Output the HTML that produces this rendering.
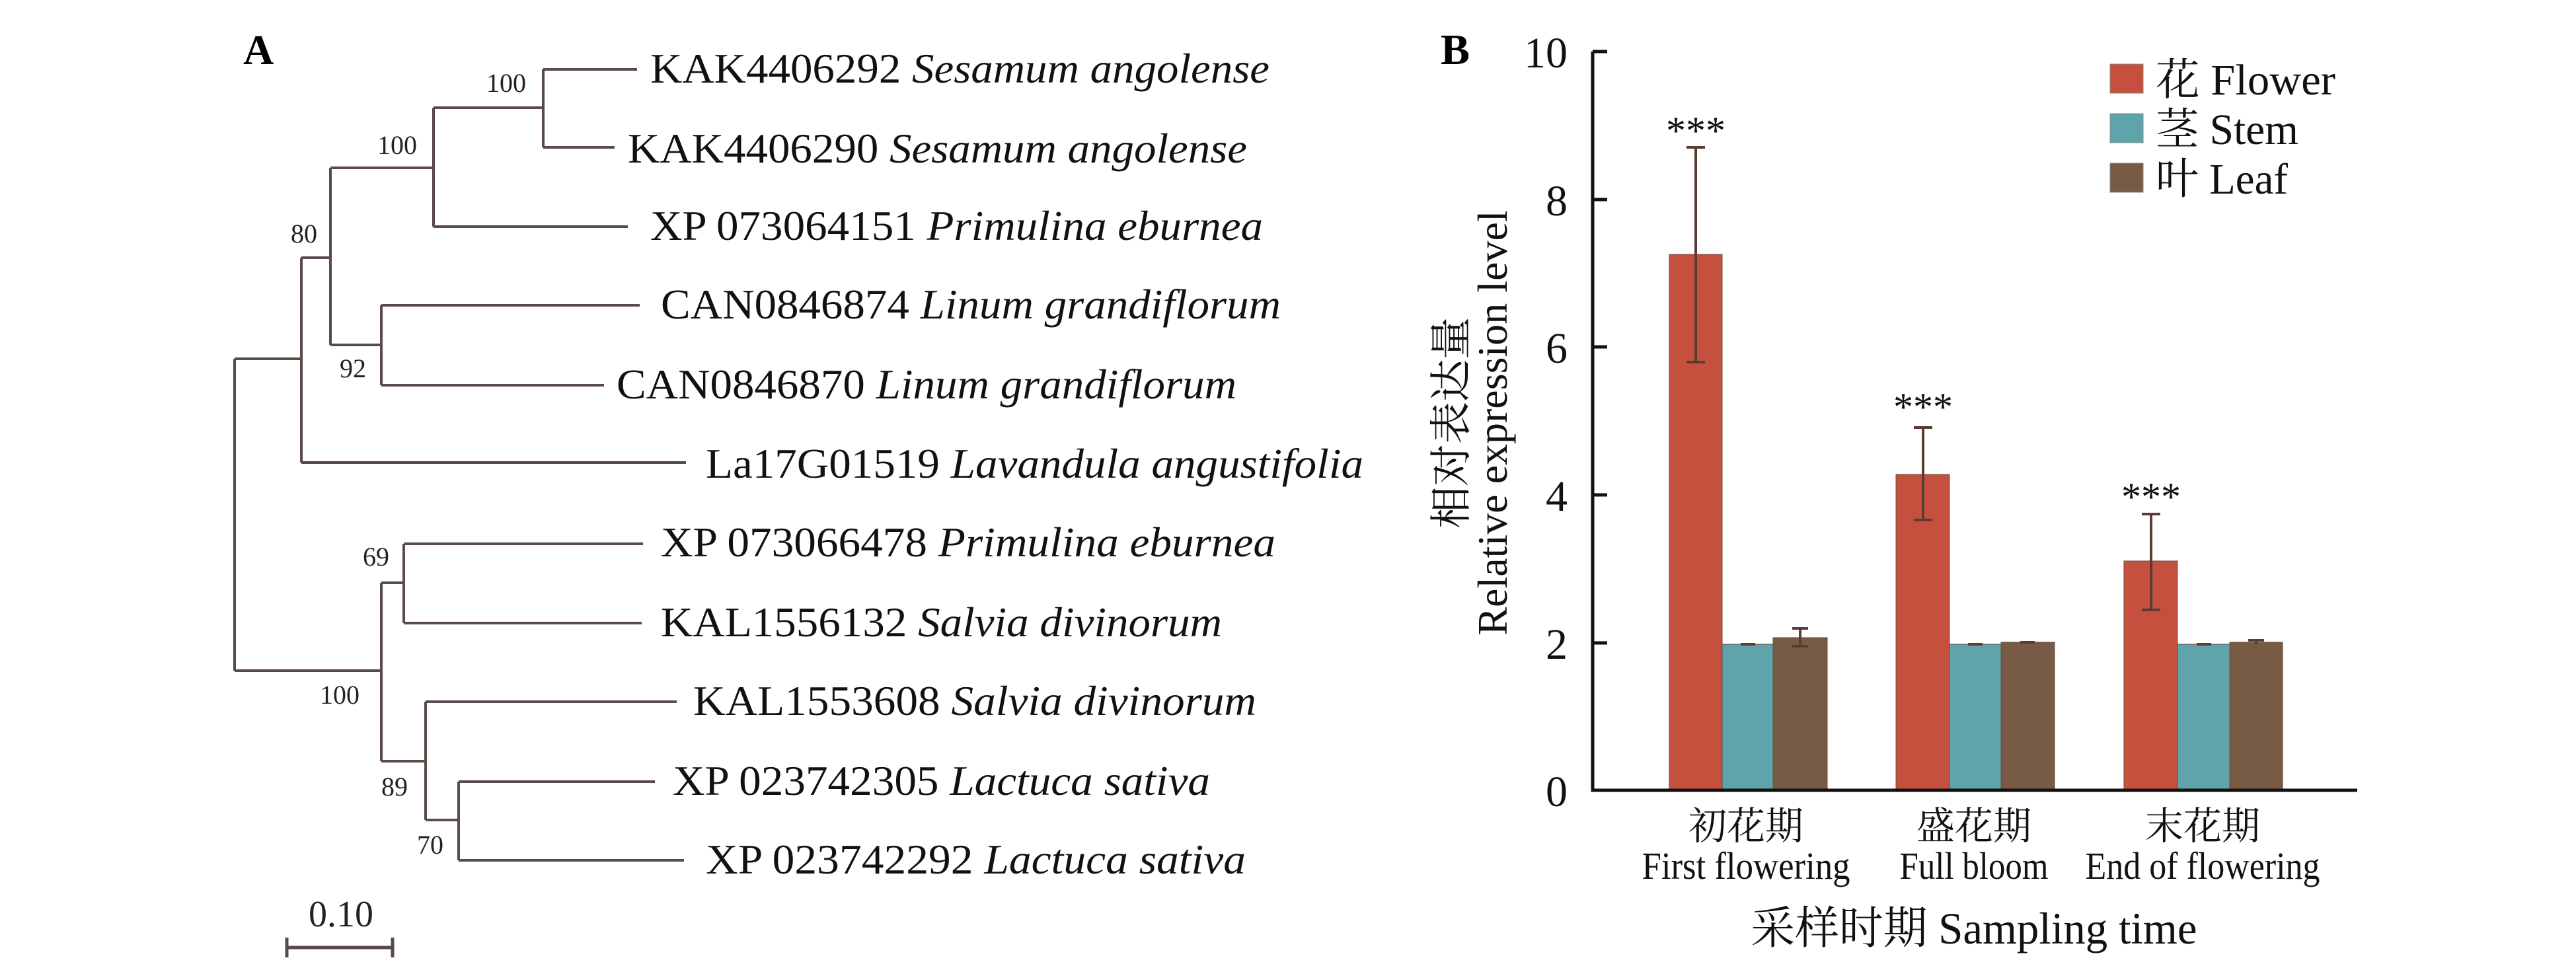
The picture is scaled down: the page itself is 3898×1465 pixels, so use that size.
<!DOCTYPE html>
<html><head><meta charset="utf-8"><style>html,body{margin:0;padding:0;background:#fff}svg{display:block}</style></head>
<body>
<svg width="3898" height="1465" viewBox="0 0 3898 1465" xmlns="http://www.w3.org/2000/svg" font-family="'Liberation Serif','Noto Serif CJK SC',serif">
<rect width="3898" height="1465" fill="#fff"/>
<!-- Panel A -->
<text x="368" y="97" font-size="64" font-weight="bold">A</text>
<g stroke="#5a4a48" stroke-width="4" fill="none">
<path d="M355 543V1015M355 543H456M355 1015H577"/>
<path d="M456 390V700M456 390H500M456 700H1038"/>
<path d="M500 254V522M500 254H656M500 522H577"/>
<path d="M656 163V343M656 163H822M656 343H950"/>
<path d="M822 105V223M822 105H964M822 223H930"/>
<path d="M577 462V583M577 462H968M577 583H914"/>
<path d="M577 882V1152M577 882H611M577 1152H644"/>
<path d="M611 823V943M611 823H973M611 943H971"/>
<path d="M644 1062V1241M644 1062H1024M644 1241H694"/>
<path d="M694 1183V1302M694 1183H991M694 1302H1035"/>
<path d="M434 1434H594M434 1419V1449M594 1419V1449" stroke-width="5"/>
</g>
<g font-size="64" fill="#111">
<text x="984" y="125" textLength="937" lengthAdjust="spacingAndGlyphs">KAK4406292 <tspan font-style="italic">Sesamum angolense</tspan></text>
<text x="950" y="246" textLength="937" lengthAdjust="spacingAndGlyphs">KAK4406290 <tspan font-style="italic">Sesamum angolense</tspan></text>
<text x="984" y="363" textLength="927" lengthAdjust="spacingAndGlyphs">XP 073064151 <tspan font-style="italic">Primulina eburnea</tspan></text>
<text x="1000" y="482" textLength="938" lengthAdjust="spacingAndGlyphs">CAN0846874 <tspan font-style="italic">Linum grandiflorum</tspan></text>
<text x="933" y="603" textLength="938" lengthAdjust="spacingAndGlyphs">CAN0846870 <tspan font-style="italic">Linum grandiflorum</tspan></text>
<text x="1068" y="723" textLength="995" lengthAdjust="spacingAndGlyphs">La17G01519 <tspan font-style="italic">Lavandula angustifolia</tspan></text>
<text x="1000" y="842" textLength="930" lengthAdjust="spacingAndGlyphs">XP 073066478 <tspan font-style="italic">Primulina eburnea</tspan></text>
<text x="1000" y="963" textLength="849" lengthAdjust="spacingAndGlyphs">KAL1556132 <tspan font-style="italic">Salvia divinorum</tspan></text>
<text x="1049" y="1082" textLength="852" lengthAdjust="spacingAndGlyphs">KAL1553608 <tspan font-style="italic">Salvia divinorum</tspan></text>
<text x="1018" y="1203" textLength="813" lengthAdjust="spacingAndGlyphs">XP 023742305 <tspan font-style="italic">Lactuca sativa</tspan></text>
<text x="1068" y="1322" textLength="817" lengthAdjust="spacingAndGlyphs">XP 023742292 <tspan font-style="italic">Lactuca sativa</tspan></text>
</g>
<g font-size="40" fill="#222" text-anchor="middle">
<text x="766" y="139">100</text>
<text x="601" y="233">100</text>
<text x="460" y="367">80</text>
<text x="534" y="571">92</text>
<text x="569" y="856">69</text>
<text x="514" y="1065">100</text>
<text x="597" y="1204">89</text>
<text x="651" y="1292">70</text>
<text x="516" y="1402" font-size="56">0.10</text>
</g>
<!-- Panel B -->
<text x="2180" y="97" font-size="66" font-weight="bold">B</text>
<g stroke="#6b4a40" stroke-width="1">
<rect x="2526" y="385" width="80" height="811" fill="#c5503e"/>
<rect x="2606" y="975" width="77" height="221" fill="#5fa3ab"/>
<rect x="2683" y="965" width="82" height="231" fill="#775b45"/>
<rect x="2869" y="718" width="81" height="478" fill="#c5503e"/>
<rect x="2950" y="975" width="78" height="221" fill="#5fa3ab"/>
<rect x="3028" y="972" width="81" height="224" fill="#775b45"/>
<rect x="3214" y="849" width="81" height="347" fill="#c5503e"/>
<rect x="3295" y="975" width="79" height="221" fill="#5fa3ab"/>
<rect x="3374" y="972" width="80" height="224" fill="#775b45"/>
</g>
<g stroke="#5b3c34" stroke-width="4" fill="none">
<path d="M2566 223V548M2552 223H2580M2552 548H2580"/>
<path d="M2724 951V978M2712 951H2736M2712 978H2736"/>
<path d="M2910 647V787M2896 647H2924M2896 787H2924"/>
<path d="M3255 778V923M3241 778H3269M3241 923H3269"/>
<path d="M3414 969V975M3402 969H3426"/>
<path d="M2634 975H2656M2978 975H3000M3324 975H3346M3057 972H3079"/>
</g>
<g stroke="#111" stroke-width="5" fill="none">
<path d="M2410 78V1196H3567"/>
<path d="M2410 78H2432M2410 302H2432M2410 525H2432M2410 749H2432M2410 973H2432"/>
</g>
<g font-size="66" fill="#111" text-anchor="end">
<text x="2372" y="102">10</text><text x="2372" y="326">8</text><text x="2372" y="549">6</text>
<text x="2372" y="773">4</text><text x="2372" y="997">2</text><text x="2372" y="1220">0</text>
</g>
<g font-size="60" fill="#111" text-anchor="middle">
<text x="2566" y="218">***</text><text x="2910" y="636">***</text><text x="3255" y="772">***</text>
</g>
<rect x="3193" y="97" width="50" height="44" fill="#c5503e" stroke="#888" stroke-width="1"/>
<rect x="3193" y="172" width="50" height="44" fill="#5fa3ab" stroke="#888" stroke-width="1"/>
<rect x="3193" y="247" width="50" height="44" fill="#775b45" stroke="#888" stroke-width="1"/>
<g font-size="66" fill="#111">
<text x="3262" y="143" textLength="272" lengthAdjust="spacingAndGlyphs">花 Flower</text>
<text x="3262" y="218" textLength="216" lengthAdjust="spacingAndGlyphs">茎 Stem</text>
<text x="3262" y="293" textLength="200" lengthAdjust="spacingAndGlyphs">叶 Leaf</text>
</g>
<g font-size="58" fill="#111" text-anchor="middle">
<text x="2642" y="1270">初花期</text><text x="2642" y="1330" textLength="315" lengthAdjust="spacingAndGlyphs">First flowering</text>
<text x="2987" y="1270">盛花期</text><text x="2987" y="1330" textLength="225" lengthAdjust="spacingAndGlyphs">Full bloom</text>
<text x="3333" y="1270">末花期</text><text x="3333" y="1330" textLength="355" lengthAdjust="spacingAndGlyphs">End of flowering</text>
<text x="2987" y="1428" font-size="68" textLength="675" lengthAdjust="spacingAndGlyphs">采样时期 Sampling time</text>
</g>
<g font-size="64" fill="#111" text-anchor="middle">
<text transform="translate(2218,640) rotate(-90)">相对表达量</text>
<text transform="translate(2280,640) rotate(-90)">Relative expression level</text>
</g>
</svg>
</body></html>
